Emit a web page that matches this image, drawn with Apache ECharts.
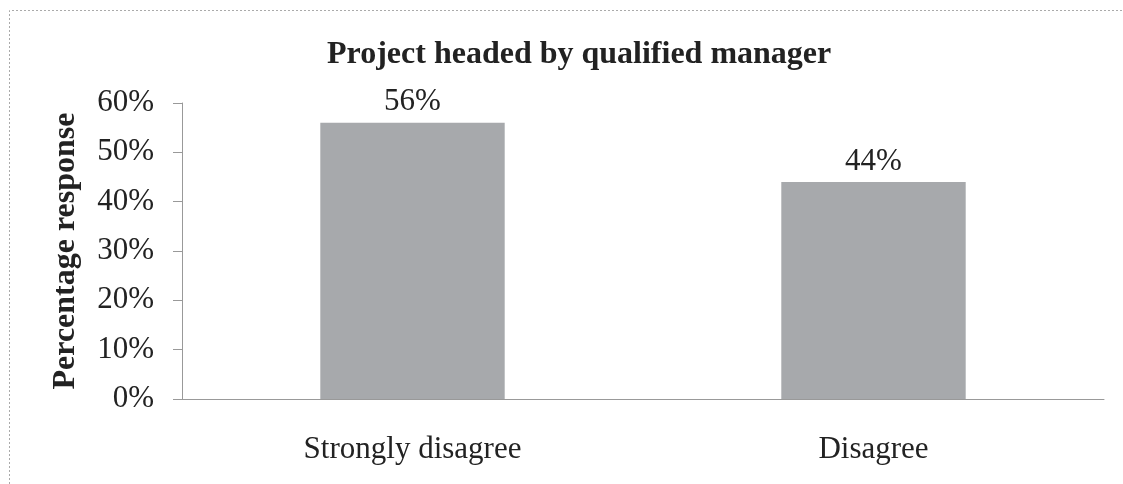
<!DOCTYPE html>
<html>
<head>
<meta charset="utf-8">
<script src="https://cdn.jsdelivr.net/npm/echarts@6/dist/echarts.min.js"></script>
<style>
  html, body { margin: 0; padding: 0; background: #fff; }
  #chart { width: 1123px; height: 484px; }
</style>
</head>
<body>
<div id="chart"></div>
<script>
// chart data
var categories = ['Strongly disagree', 'Disagree'];
var responses = [56, 44];
var yTicks = [0, 10, 20, 30, 40, 50, 60];

var serif = '"Liberation Serif", "DejaVu Serif", serif';

var chart = echarts.init(document.getElementById('chart'));
chart.setOption({
  animation: false,
  backgroundColor: '#fff',
  title: {
    text: 'Project headed by qualified manager',
    left: 322,
    top: 34,
    textStyle: { fontFamily: serif, fontWeight: 'bold', fontSize: 32, color: '#222' }
  },
  // scanned frame: only top and left edges show
  graphic: [{
    type: 'polyline',
    shape: { points: [[9.5, 484], [9.5, 10.5], [1123, 10.5]] },
    style: { fill: 'none', stroke: '#aaa', lineWidth: 1, lineDash: [2, 2] }
  }],
  grid: { left: 182, right: 19, top: 103, bottom: 85 },
  xAxis: {
    type: 'category',
    data: categories,
    axisLine: { lineStyle: { color: '#999', width: 1 } },
    axisTick: { show: false },
    axisLabel: { fontFamily: serif, fontSize: 31, color: '#222', margin: 35 }
  },
  yAxis: {
    type: 'value',
    min: yTicks[0],
    max: yTicks[yTicks.length - 1],
    interval: 10,
    name: 'Percentage response',
    nameLocation: 'middle',
    nameGap: 100,
    nameTextStyle: { fontFamily: serif, fontWeight: 'bold', fontSize: 32, color: '#222' },
    axisLine: { show: true, lineStyle: { color: '#999', width: 1 } },
    axisTick: { show: true, length: 9, lineStyle: { color: '#999' } },
    splitLine: { show: false },
    axisLabel: { fontFamily: serif, fontSize: 31, color: '#222', margin: 28, formatter: '{value}%' }
  },
  series: [{
    type: 'bar',
    data: responses,
    barWidth: '40%',
    itemStyle: { color: '#a7a9ac' },
    label: {
      show: true,
      position: 'top',
      distance: 5,
      formatter: '{c}%',
      fontFamily: serif,
      fontSize: 31,
      color: '#222'
    }
  }]
});
</script>
</body>
</html>
